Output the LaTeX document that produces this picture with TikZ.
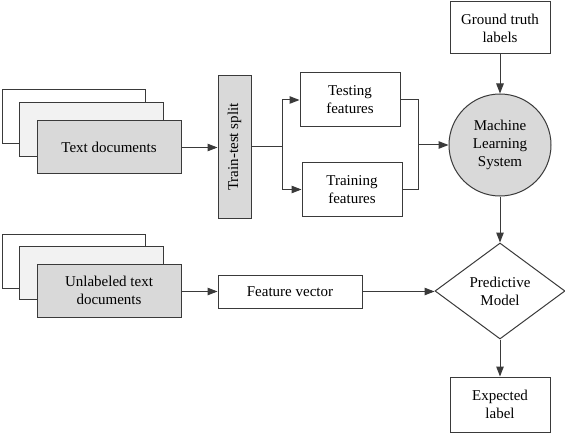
\documentclass[tikz,border=0pt]{standalone}
\usepackage{fontspec}
\setmainfont{Liberation Serif}
\usetikzlibrary{arrows.meta,shapes.geometric}
\definecolor{boxgray}{HTML}{D9D9D9}
\definecolor{lightgray2}{HTML}{F2F2F2}
\definecolor{linegray}{HTML}{3A3A3A}
\tikzset{
  every node/.style={font=\rmfamily\fontsize{15}{18}\selectfont, align=center, inner sep=0pt},
  box/.style={draw=linegray, line width=1pt, rectangle, fill=white},
  graybox/.style={box, fill=boxgray},
  lightbox/.style={box, fill=lightgray2},
  conn/.style={draw=linegray, line width=1pt},
  arr/.style={conn, -{Triangle[length=10pt,width=7.5pt]}},
}
\begin{document}
\begin{tikzpicture}[x=1pt,y=-1pt]
\useasboundingbox (0,0) rectangle (565,433);
% top document stack
\node[box, minimum width=143pt, minimum height=54pt] (docA) at (73.5,117) {};
\node[lightbox, minimum width=144pt, minimum height=54pt] (docB) at (91,130) {};
\node[graybox, minimum width=144pt, minimum height=53pt] (docs) at (109,147.5) {Text documents};
% train-test split
\node[graybox, minimum width=33pt, minimum height=142pt] (split) at (234.5,147) {};
\node[rotate=90] (splitlabel) at (split.center) {Train-test split};
% features
\node[box, minimum width=100pt, minimum height=54pt] (test) at (350,100) {Testing\\features};
\node[box, minimum width=100pt, minimum height=53pt] (train) at (352,189.5) {Training\\features};
% machine learning system
\node[circle, draw=linegray, line width=1pt, fill=boxgray, minimum size=102pt] (mls) at (500,145) {Machine\\Learning\\System};
% ground truth
\node[box, minimum width=100pt, minimum height=52pt] (gt) at (500,28) {Ground truth\\labels};
% bottom document stack
\node[box, minimum width=143pt, minimum height=54pt] (udocA) at (73.5,261) {};
\node[lightbox, minimum width=144pt, minimum height=53pt] (udocB) at (91,272.5) {};
\node[graybox, minimum width=144pt, minimum height=53pt] (udocs) at (109,290.5) {Unlabeled text\\documents};
% feature vector
\node[box, minimum width=144pt, minimum height=33pt] (fv) at (290,291.5) {Feature vector};
% predictive model
\node[diamond, draw=linegray, line width=1pt, fill=white, aspect=1.354, minimum width=130pt, minimum height=96pt] (pm) at (500,291) {Predictive\\Model};
% expected label
\node[box, minimum width=100pt, minimum height=55pt] (exp) at (500,404.5) {Expected\\label};
% connectors
\coordinate (br) at (282,147);
\coordinate (mg) at (418,145);
\draw[arr] (docs.east) -- (docs.east -| split.west);
\draw[conn] (split.east) -- (br);
\draw[arr] (br) |- (test.west);
\draw[arr] (br) |- (train.west);
\draw[conn] (test.east) -| (mg);
\draw[conn] (train.east) -| (mg);
\draw[arr] (mg) -- (mls.west);
\draw[arr] (gt.south) -- (mls.north);
\draw[arr] (mls.south) -- (pm.north);
\draw[arr] (udocs.east |- fv.west) -- (fv.west);
\draw[arr] (fv.east) -- (fv.east -| pm.west);
\draw[arr] (pm.south) -- (exp.north);
\end{tikzpicture}
\end{document}
